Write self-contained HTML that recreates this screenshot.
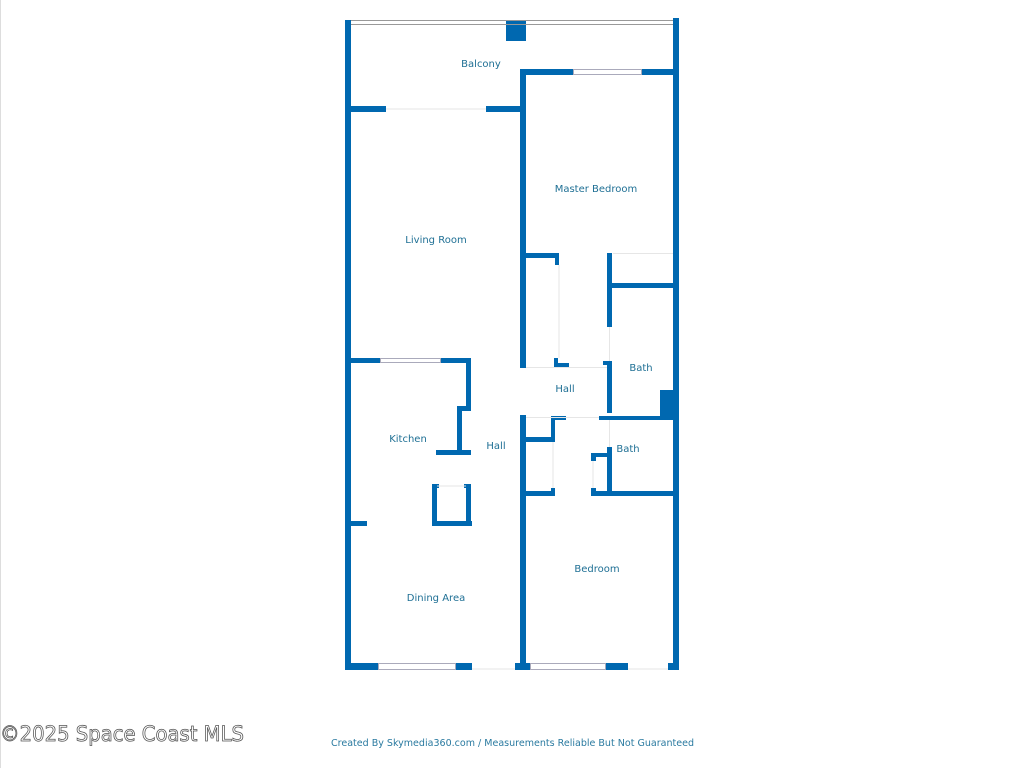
<!DOCTYPE html>
<html><head><meta charset="utf-8"><style>
html,body{margin:0;padding:0;background:#fff;width:1024px;height:768px;overflow:hidden}
svg{display:block}
.t{font-family:"DejaVu Sans","Liberation Sans",sans-serif;font-size:10px;fill:#1e6f94}
</style></head><body>
<svg width="1024" height="768" viewBox="0 0 1024 768" xmlns="http://www.w3.org/2000/svg">
<rect x="0" y="0" width="1" height="768" fill="#ddd"/>
<g fill="#0068b0">
<!-- outer walls -->
<rect x="345" y="20" width="6" height="650"/>
<rect x="673" y="18" width="6" height="652"/>
<rect x="506" y="20" width="20" height="21"/>
<!-- balcony bottom -->
<rect x="345" y="106" width="41" height="6"/>
<rect x="486" y="106" width="40" height="6"/>
<!-- center wall upper -->
<rect x="520" y="69" width="6" height="299"/>
<rect x="520" y="69" width="53" height="6"/>
<rect x="641" y="69" width="38" height="6"/>
<!-- master closet -->
<rect x="520" y="253" width="39" height="5"/>
<rect x="555" y="253" width="4" height="12"/>
<rect x="554" y="358" width="4" height="9"/>
<rect x="554" y="363" width="15" height="4"/>
<rect x="607" y="253" width="5" height="74"/>
<rect x="607" y="283" width="66" height="5"/>
<rect x="607" y="361" width="5" height="52"/>
<rect x="603" y="361" width="9" height="4"/>
<rect x="599" y="416" width="80" height="4"/>
<rect x="660" y="390" width="15" height="30"/>
<!-- living/kitchen -->
<rect x="345" y="358" width="35" height="5"/>
<rect x="440" y="358" width="31" height="5"/>
<rect x="466" y="358" width="5" height="52"/>
<rect x="457" y="406" width="14" height="5"/>
<rect x="457" y="406" width="5" height="49"/>
<rect x="436" y="450" width="35" height="5"/>
<!-- island -->
<rect x="432" y="484" width="5" height="42"/>
<rect x="432" y="521" width="40" height="5"/>
<rect x="466" y="484" width="5" height="42"/>
<rect x="432" y="484" width="7" height="4"/>
<rect x="464" y="484" width="7" height="4"/>
<rect x="351" y="521" width="16" height="5"/>
<!-- lower center wall -->
<rect x="520" y="415" width="6" height="255"/>
<rect x="520" y="416" width="6" height="4"/>
<rect x="551" y="416" width="15" height="4"/>
<rect x="551" y="416" width="4" height="26"/>
<rect x="526" y="437" width="29" height="5"/>
<rect x="526" y="491" width="29" height="5"/>
<rect x="551" y="488" width="4" height="8"/>
<!-- bath 2 -->
<rect x="607" y="447" width="5" height="48"/>
<rect x="591" y="453" width="21" height="4"/>
<rect x="591" y="453" width="5" height="8"/>
<rect x="591" y="488" width="5" height="8"/>
<rect x="591" y="491" width="88" height="5"/>
<!-- bottom wall -->
<rect x="345" y="663" width="33" height="7"/>
<rect x="455" y="663" width="17" height="7"/>
<rect x="515" y="663" width="15" height="7"/>
<rect x="605" y="663" width="23" height="7"/>
<rect x="668" y="663" width="11" height="7"/>
</g>
<!-- windows / rails -->
<g fill="none" stroke="#999" stroke-width="1">
<line x1="351" y1="20.5" x2="673" y2="20.5"/>
<line x1="351" y1="24.5" x2="673" y2="24.5"/>
</g>
<g fill="#fff" stroke="#aab" stroke-width="1">
<rect x="573.5" y="69.5" width="68" height="5"/>
<rect x="380.5" y="358.5" width="60" height="4"/>
<rect x="378.5" y="663.5" width="77" height="6"/>
<rect x="530.5" y="663.5" width="75" height="6"/>
</g>
<g stroke="#e6e6e6" stroke-width="1" fill="none">
<line x1="386" y1="109" x2="486" y2="109"/>
<line x1="613" y1="253.5" x2="673" y2="253.5"/>
<line x1="559" y1="265" x2="559" y2="358"/>
<line x1="526" y1="367.5" x2="607" y2="367.5"/>
<line x1="526" y1="417.5" x2="599" y2="417.5"/>
<line x1="609.5" y1="327" x2="609.5" y2="361"/>
<line x1="609.5" y1="420" x2="609.5" y2="447"/>
<line x1="553" y1="442" x2="553" y2="488"/>
<line x1="593" y1="461" x2="593" y2="488"/>
<line x1="437" y1="486" x2="466" y2="486"/>
<line x1="472" y1="669" x2="515" y2="669"/>
<line x1="628" y1="669" x2="668" y2="669"/>
</g>
<g class="t" text-anchor="middle">
<text x="481" y="67">Balcony</text>
<text x="596" y="192">Master Bedroom</text>
<text x="436" y="243">Living Room</text>
<text x="641" y="371">Bath</text>
<text x="565" y="392">Hall</text>
<text x="408" y="442">Kitchen</text>
<text x="496" y="449">Hall</text>
<text x="628" y="452">Bath</text>
<text x="597" y="572">Bedroom</text>
<text x="436" y="601">Dining Area</text>
</g>
<text x="0" y="741" font-family="DejaVu Sans,Liberation Sans,sans-serif" font-size="21" fill="#fff" stroke="#555" stroke-width="0.8" textLength="244" lengthAdjust="spacingAndGlyphs">©2025 Space Coast MLS</text>
<text x="331" y="746" font-family="DejaVu Sans,Liberation Sans,sans-serif" font-size="10" fill="#2a7aa0" textLength="363" lengthAdjust="spacingAndGlyphs">Created By Skymedia360.com / Measurements Reliable But Not Guaranteed</text>
</svg>
</body></html>
